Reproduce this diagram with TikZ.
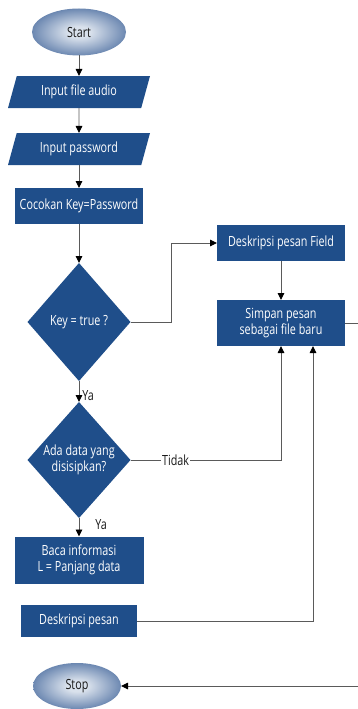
\documentclass[tikz,border=0pt]{standalone}
\usepackage{fontspec}
\setmainfont[FakeStretch=0.77]{Open Sans}
\usetikzlibrary{shapes.geometric,arrows.meta}

\definecolor{boxblue}{HTML}{1F4E8A}
\definecolor{ovalin}{HTML}{D9E1EC}
\definecolor{ovalmid}{HTML}{5B7AA8}
\definecolor{ovalout}{HTML}{1B437C}
\definecolor{wire}{HTML}{5A5A5A}
\pgfdeclareradialshading{ovalshade}{\pgfpointorigin}{%
  color(0bp)=(ovalin); color(6bp)=(ovalin); color(28bp)=(ovalmid); color(50bp)=(ovalout)}

\tikzset{
  txt/.style={font=\fontsize{14}{16}\selectfont},
  procbox/.style={txt, rectangle, fill=boxblue, text=white, inner sep=0pt,
    outer sep=0pt, align=center},
  iobox/.style={txt, trapezium, trapezium left angle=58, trapezium right angle=122,
    trapezium stretches body, fill=boxblue, text=white, minimum width=142pt,
    minimum height=32pt, inner sep=0pt, outer sep=0pt},
  decbox/.style={diamond, fill=boxblue, inner sep=0pt, outer sep=0pt},
  dectext/.style={txt, text=white, align=center, inner sep=0pt},
  terminal/.style={txt, ellipse, shading=ovalshade, text=black!90, inner sep=0pt,
    outer sep=0pt},
  lbl/.style={txt, text=black!90, inner sep=1pt},
  wireline/.style={draw=wire, line width=0.9pt},
  flow/.style={wireline, -{Triangle[length=7pt,width=6.5pt,color=black]}}
}

\begin{document}
\begin{tikzpicture}[x=1pt, y=-1pt]
\useasboundingbox (0,0) rectangle (358,709);

% terminals
\node[terminal, minimum width=94pt, minimum height=47pt] (start) at (79,32) {Start};
\node[terminal, minimum width=88pt, minimum height=46pt] (stop) at (77,686) {Stop};

% input steps
\node[iobox] (in1) at (79,92) {Input file audio};
\node[iobox] (in2) at (79,149) {Input password};

% processes
\node[procbox, minimum width=128pt, minimum height=36pt] (cocok) at (79,206) {Cocokan Key=Password};
\node[procbox, minimum width=128pt, minimum height=36pt] (field) at (281,243) {Deskripsi pesan Field};
\node[procbox, minimum width=128pt, minimum height=46pt] (simpan) at (281,323) {Simpan pesan\\sebagai file baru};
\node[procbox, minimum width=129pt, minimum height=47pt] (baca) at (79,560) {Baca informasi\\L = Panjang data};
\node[procbox, minimum width=116pt, minimum height=32pt] (desk) at (79,621) {Deskripsi pesan};

% decisions
\node[decbox, minimum width=103pt, minimum height=118pt] (d1) at (79,322) {};
\node[dectext] (d1t) at (d1.center) {Key = true ?};
\node[decbox, minimum width=103pt, minimum height=116pt] (d2) at (79,460) {};
\node[dectext] (d2t) at (d2.center) {Ada data yang\\disisipkan?};

% return route along the right edge
\coordinate (rb) at (366,686);

% connectors
\draw[flow] (start) -- (in1);
\draw[flow] (in1) -- (in2);
\draw[flow] (in2) -- (cocok);
\draw[flow] (cocok) -- (d1);
\draw[flow] (d1.east) -- ++(41,0) |- (field.west);
\draw[flow] (field) -- (simpan);
\draw[flow] (d1) -- node[lbl, pos=0.67, anchor=west, xshift=2pt] {Ya} (d2);
\draw[flow] (d2.east) -| node[lbl, pos=0.15, fill=white] {Tidak} (simpan.south);
\draw[flow] (d2) -- node[lbl, pos=0.37, anchor=west, xshift=15pt] {Ya} (baca);
\draw[flow] (desk.east) -| ([xshift=32pt]simpan.south);
\draw[flow] (simpan.east) -- (simpan.east -| rb) -- (rb) -- (stop.east);
\end{tikzpicture}
\end{document}
